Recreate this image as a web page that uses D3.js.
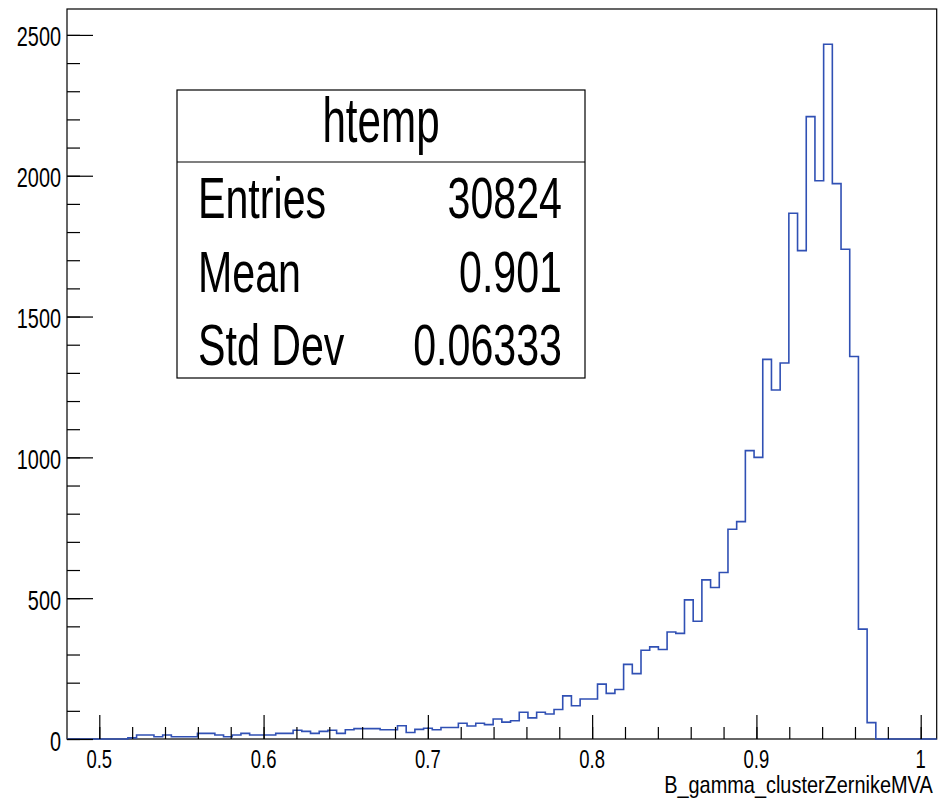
<!DOCTYPE html>
<html lang="en">
<head>
    <meta charset="UTF-8">
    <title>htemp</title>
    <script src="https://cdn.jsdelivr.net/npm/d3@7/dist/d3.min.js"></script>
    <style>
        body { margin: 0; background: #fff; }
        text { font-family: "Liberation Sans", Arial, Helvetica, sans-serif; fill: #000; }
    </style>
</head>
<body>
<svg width="941" height="804"></svg>
<script>
// histogram definition (100 bins), counts
const xMin = 0.48034, xMax = 1.00974, nBins = 100;
const counts = [
    0, 0, 0, 0, 0, 0, 0, 4, 14, 14,
    8, 14, 8, 8, 8, 20, 20, 14, 8, 14,
    20, 14, 14, 14, 20, 20, 31, 27, 20, 27,
    31, 20, 33, 37, 37, 37, 33, 33, 47, 23,
    34, 38, 33, 41, 41, 56, 46, 56, 51, 71,
    60, 65, 95, 75, 95, 89, 105, 153, 118, 142,
    142, 195, 162, 176, 265, 232, 315, 327, 318, 380,
    375, 494, 418, 565, 538, 591, 745, 772, 1024, 1000,
    1348, 1239, 1335, 1867, 1734, 2210, 1982, 2467, 1972, 1739,
    1358, 390, 58, 0, 0, 0, 0, 0, 0, 0
];
const yMax = 2592;
const xMajor = [0.5, 0.6, 0.7, 0.8, 0.9, 1.0];
const xMajorLabels = ["0.5", "0.6", "0.7", "0.8", "0.9", "1"];
const xMinor = d3.range(25, 51).map(d => d * 0.02).filter(v => v > xMin && v < xMax);
const yMajor = [0, 500, 1000, 1500, 2000, 2500];
const yMinor = d3.range(0, 26).map(d => d * 100);
const statNames = ["Entries", "Mean", "Std Dev"];
const statValues = ["30824", "0.901", "0.06333"];

const frame = {left: 67, top: 9, right: 936.7, bottom: 739};
const squeeze = 0.71; // ROOT text looks horizontally condensed

const svg = d3.select("svg");

const x = d3.scaleLinear().domain([xMin, xMax]).range([frame.left, frame.right]);
const y = d3.scaleLinear().domain([0, yMax]).range([frame.bottom, frame.top]);

// frame
svg.append("rect")
    .attr("x", frame.left).attr("y", frame.top)
    .attr("width", frame.right - frame.left).attr("height", frame.bottom - frame.top)
    .attr("fill", "none").attr("stroke", "#000").attr("stroke-width", 1.2);

// histogram outline
const binW = (xMax - xMin) / nBins;
const pts = counts.map((c, i) => [xMin + i * binW, c]);
pts.push([xMax, counts[nBins - 1]]);
svg.append("path")
    .attr("d", d3.line().x(d => x(d[0])).y(d => y(d[1])).curve(d3.curveStepAfter)(pts))
    .attr("fill", "none").attr("stroke", "#3050b4").attr("stroke-width", 1.6);

// ticks (inward, ROOT style)
function ticks(axis, at, vals, size) {
    const g = svg.append("g").attr("transform", at)
        .call(axis.tickValues(vals).tickSize(size).tickFormat(""));
    g.select(".domain").remove();
    g.selectAll("line").attr("stroke", "#000").attr("stroke-width", 1.2);
}
ticks(d3.axisRight(y), "translate(" + frame.left + ",0)", yMajor, 26);
ticks(d3.axisRight(y), "translate(" + frame.left + ",0)", yMinor, 13);
ticks(d3.axisTop(x), "translate(0," + frame.bottom + ")", xMajor, 24);
ticks(d3.axisTop(x), "translate(0," + frame.bottom + ")", xMinor, 12);

// labels
function label(str, px, py, size, anchor, sq) {
    svg.append("text")
        .attr("transform", "translate(" + px + "," + py + ") scale(" + (sq || squeeze) + ",1)")
        .attr("text-anchor", anchor)
        .attr("font-size", size)
        .text(str);
}
yMajor.forEach(v => label(d3.format("d")(v), 61, y(v) + 11.5, 28, "end"));
xMajor.forEach((v, i) => label(xMajorLabels[i], x(v), 768, 26, "middle"));
label("B_gamma_clusterZernikeMVA", 932.7, 793, 24, "end", 0.83);

// stats box
const box = {left: 177, top: 90, right: 585, bottom: 378, sep: 162};
svg.append("rect")
    .attr("x", box.left).attr("y", box.top)
    .attr("width", box.right - box.left).attr("height", box.bottom - box.top)
    .attr("fill", "#fff").attr("stroke", "#000").attr("stroke-width", 1.2);
svg.append("line")
    .attr("x1", box.left).attr("x2", box.right)
    .attr("y1", box.sep).attr("y2", box.sep)
    .attr("stroke", "#000").attr("stroke-width", 1.2);
label("htemp", (box.left + box.right) / 2, 141.7, 62, "middle", 0.68);
const rowY = [218, 292, 365];
statNames.forEach((n, i) => {
    label(n, 198, rowY[i], 58, "start");
    label(statValues[i], 562, rowY[i], 58, "end");
});
</script>
</body>
</html>
